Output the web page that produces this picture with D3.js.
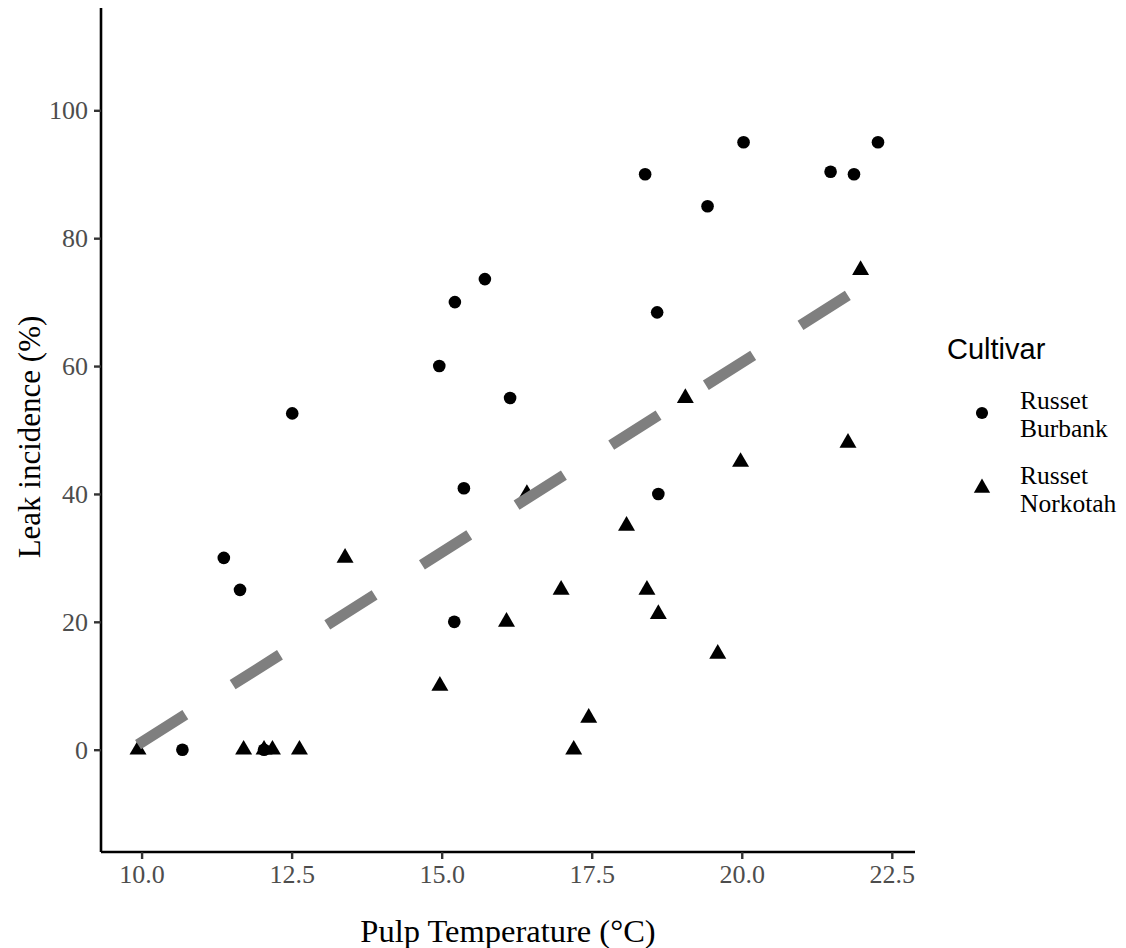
<!DOCTYPE html>
<html>
<head>
<meta charset="utf-8">
<script src="https://d3js.org/d3.v7.min.js"></script>
<style>
  body { margin: 0; background: #fff; }
  svg { display: block; }
</style>
</head>
<body>
<script>
  // Russet Burbank (circles)
  var burbankTemp = [10.68, 11.37, 11.64, 12.04, 12.51, 14.96, 15.22, 15.72, 15.37, 15.21,
                     16.14, 18.39, 18.59, 18.61, 19.43, 20.03, 21.48, 21.87, 22.27];
  var burbankLeak = [0, 30, 25, 0, 52.6, 60, 70, 73.6, 40.9, 20,
                     55, 90, 68.4, 40, 85, 95, 90.4, 90, 95];
  // Russet Norkotah (triangles)
  var norkotahTemp = [9.94, 11.70, 12.04, 12.18, 12.63, 13.39, 14.97, 16.08, 16.42, 16.99,
                      17.20, 17.45, 18.08, 18.42, 18.61, 19.06, 19.60, 19.98, 21.77, 21.98];
  var norkotahLeak = [0, 0, 0, 0, 0, 30, 10, 20, 40, 25,
                      0, 5, 35, 25, 21.2, 55, 15, 45, 48, 75];

  var cultivars = ["Russet\nBurbank", "Russet\nNorkotah"];
  var xTicks = [10, 12.5, 15, 17.5, 20, 22.5];
  var yTicks = [0, 20, 40, 60, 80, 100];

  var w = 1126, h = 948;
  var panel = {left: 101, right: 915, top: 8, bottom: 852};

  var svg = d3.select("body").append("svg")
    .attr("width", w)
    .attr("height", h);

  var x = d3.scaleLinear().domain([9.3235, 22.8865]).range([panel.left, panel.right]);
  var y = d3.scaleLinear().domain([-16, 116]).range([panel.bottom, panel.top]);

  var points = [];
  burbankTemp.forEach(function(t, i) { points.push({t: t, v: burbankLeak[i], g: 0}); });
  norkotahTemp.forEach(function(t, i) { points.push({t: t, v: norkotahLeak[i], g: 1}); });

  var shapes = [d3.symbolCircle, d3.symbolTriangle];
  var sym = d3.symbol().type(function(d) { return shapes[d.g]; }).size(125);

  svg.append("g").selectAll("path")
    .data(points)
    .enter().append("path")
    .attr("transform", function(d) { return "translate(" + x(d.t) + "," + y(d.v) + ")"; })
    .attr("d", sym)
    .attr("fill", "black");

  // linear fit over all points
  var mx = d3.mean(points, function(d) { return d.t; });
  var my = d3.mean(points, function(d) { return d.v; });
  var sxy = d3.sum(points, function(d) { return (d.t - mx) * (d.v - my); });
  var sxx = d3.sum(points, function(d) { return (d.t - mx) * (d.t - mx); });
  var slope = sxy / sxx;
  var ext = d3.extent(points, function(d) { return d.t; });
  var fit = ext.map(function(t) { return [t, my + slope * (t - mx)]; });

  svg.append("path")
    .datum(fit)
    .attr("d", d3.line().x(function(d) { return x(d[0]); }).y(function(d) { return y(d[1]); }))
    .attr("fill", "none")
    .attr("stroke", "#7f7f7f")
    .attr("stroke-width", 11)
    .attr("stroke-dasharray", "56,56");

  // axes
  var xAxis = svg.append("g")
    .attr("transform", "translate(0," + panel.bottom + ")")
    .call(d3.axisBottom(x).tickValues(xTicks).tickFormat(d3.format(".1f")).tickSize(7).tickPadding(6));
  var yAxis = svg.append("g")
    .attr("transform", "translate(" + panel.left + ",0)")
    .call(d3.axisLeft(y).tickValues(yTicks).tickSize(7).tickPadding(6));

  [xAxis, yAxis].forEach(function(a) {
    a.select(".domain").attr("stroke", "black").attr("stroke-width", 2.6);
    a.selectAll(".tick line").attr("stroke", "#333").attr("stroke-width", 2.4);
    a.selectAll(".tick text")
      .attr("fill", "#4d4d4d")
      .attr("font-family", "'Liberation Serif', 'Times New Roman', serif")
      .attr("font-size", 26);
  });
  yAxis.selectAll(".domain").attr("d", "M0," + panel.bottom + "V" + panel.top);
  xAxis.selectAll(".domain").attr("d", "M" + panel.left + ",0H" + panel.right);

  // axis titles
  svg.append("text")
    .attr("x", (panel.left + panel.right) / 2)
    .attr("y", 942)
    .attr("text-anchor", "middle")
    .attr("font-family", "'Liberation Serif', 'Times New Roman', serif")
    .attr("font-size", 32.5)
    .text("Pulp Temperature (°C)");

  svg.append("text")
    .attr("transform", "translate(40," + ((panel.top + panel.bottom) / 2 + 7) + ") rotate(-90)")
    .attr("text-anchor", "middle")
    .attr("font-family", "'Liberation Serif', 'Times New Roman', serif")
    .attr("font-size", 31)
    .text("Leak incidence (%)");

  // legend
  var lg = svg.append("g");
  lg.append("text")
    .attr("x", 947)
    .attr("y", 359)
    .attr("font-family", "'Liberation Sans', Arial, sans-serif")
    .attr("font-size", 29)
    .text("Cultivar");

  var keyY = [413, 488];
  cultivars.forEach(function(name, i) {
    lg.append("path")
      .attr("transform", "translate(982," + keyY[i] + ")")
      .attr("d", d3.symbol().type(shapes[i]).size(115)())
      .attr("fill", "black");
    var t = lg.append("text")
      .attr("font-family", "'Liberation Serif', 'Times New Roman', serif")
      .attr("font-size", 25.5)
      .attr("fill", "black");
    name.split("\n").forEach(function(part, j) {
      t.append("tspan")
        .attr("x", 1020)
        .attr("y", keyY[i] - 4 + j * 28)
        .text(part);
    });
  });
</script>
</body>
</html>
